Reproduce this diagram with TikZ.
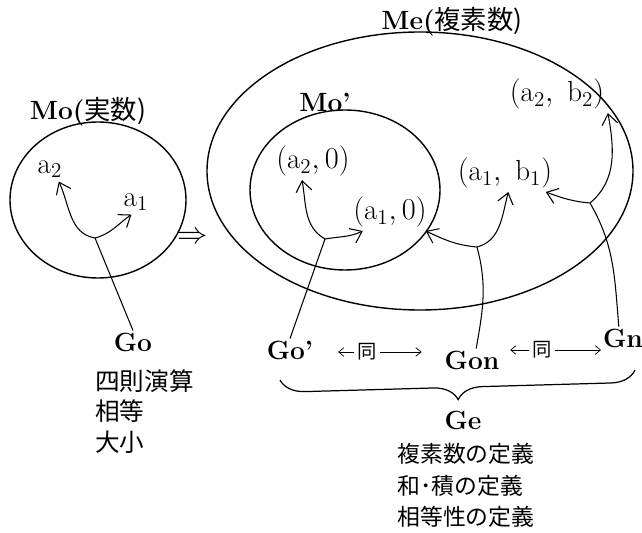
\documentclass[tikz,border=0pt]{standalone}
\usepackage{fontspec}
\newfontfamily\jpfont{Noto Sans CJK JP}
\usetikzlibrary{arrows.meta,decorations.pathreplacing,calc}

\begin{document}
\begin{tikzpicture}[
    x=0.02cm, y=-0.02cm,
    setname/.style={font=\fontsize{15}{18}\selectfont\bfseries, inner sep=1pt},
    elem/.style={font=\fontsize{16.5}{19}\selectfont, inner sep=2pt},
    note/.style={font=\fontsize{14}{17.5}\selectfont\jpfont, align=left,
                 anchor=north west, inner sep=0pt},
    link/.style={-{Straight Barb[length=6pt,width=9pt]}, line width=0.6pt},
    same/.style={font=\fontsize{11}{12}\selectfont\jpfont, inner sep=1.5pt},
    pair/.style={-{Straight Barb[length=3pt,width=5pt]}, line width=0.4pt}
]
\useasboundingbox (0,0) rectangle (642,533);

% Sets
\draw[line width=0.8pt] (98,200) ellipse [x radius=88, y radius=78];
\draw[line width=0.8pt] (420,171) ellipse [x radius=213, y radius=139];
\draw[line width=0.8pt] (345,190) ellipse [x radius=95, y radius=80];

% Set names
\node[setname] (Mo) at (88,112) {Mo(\mdseries\jpfont 実数)};
\node[setname] (Me) at (452,22) {Me(\mdseries\jpfont 複素数)};
\node[setname] (Mop) at (325,102) {Mo'};
\node at (193,238) {\fontsize{19}{20}\selectfont$\Rightarrow$};

% Elements
\node[elem] (a2) at (50,169) {$\mathrm{a}_{2}$};
\node[elem] (a1) at (136,202) {$\mathrm{a}_{1}$};
\node[elem] (a20) at (313,161) {$(\mathrm{a}_{2},0)$};
\node[elem] (a10) at (390,212) {$(\mathrm{a}_{1},0)$};
\node[elem] (a1b1) at (505,173) {$(\mathrm{a}_{1},\ \mathrm{b}_{1})$};
\node[elem] (a2b2) at (557,94) {$(\mathrm{a}_{2},\ \mathrm{b}_{2})$};

% Operations
\node[setname] (Go) at (133,342) {Go};
\node[setname] (Gop) at (290,350) {Go'};
\node[setname] (Gon) at (472,360) {Gon};
\node[setname] (Gn) at (623,338) {Gn};
\node[setname] (Ge) at (463,420) {Ge};

\node[note] (golist) at (95,369) {四則演算\\相等\\大小};
\node[note, font=\fontsize{13}{18}\selectfont\jpfont] (gelist) at (397,443)
    {複素数の定義\\和･積の定義\\相等性の定義};

% Fork points
\coordinate (v0) at (95,238);
\coordinate (v1) at (325,239);
\coordinate (v2) at (477,247);
\coordinate (v3) at (590,203);

% Go
\draw[line width=0.6pt] (Go.north) -- (v0);
\draw[link] (v0) to[out=170, in=-65] (a2.-55);
\draw[link] (v0) to[out=15, in=-145] (a1.-110);

% Go'
\draw[line width=0.6pt] (Gop.north) -- (v1);
\draw[link] (v1) to[out=150, in=-80] (a20.-120);
\draw[link] (v1) to[out=10, in=-155] (a10.-145);

% Gon
\draw[line width=0.6pt] (Gon.70) to[out=80, in=-75] (v2);
\draw[link] (v2) to[out=175, in=-25] (a10.-28);
\draw[link] (v2) to[out=15, in=-105] (a1b1.-80);

% Gn
\draw[line width=0.6pt] (Gn.110) to[out=95, in=-60] (v3);
\draw[link] (v3) to[out=175, in=-20] (a1b1.-25);
\draw[link] (v3) to[out=40, in=-80] (a2b2.south east);

% Same
\node[same] (same1) at (367,352) {同};
\node[same] (same2) at (542,350) {同};
\draw[pair, shorten >=13pt] (same1) -- (same1 -| Gop.east);
\draw[pair, shorten >=12pt] (same1) -- (same1 -| Gon.west);
\draw[pair, shorten >=5pt] (same2) -- (same2 -| Gon.east);
\draw[pair] (same2) -- (same2 -| Gn.west);

% Brace
\coordinate (bl) at (280,380);
\coordinate (br) at (635,370);
\draw[line width=0.7pt, decorate, decoration={brace, mirror, amplitude=14pt}] (bl) -- (br);

\end{tikzpicture}
\end{document}
